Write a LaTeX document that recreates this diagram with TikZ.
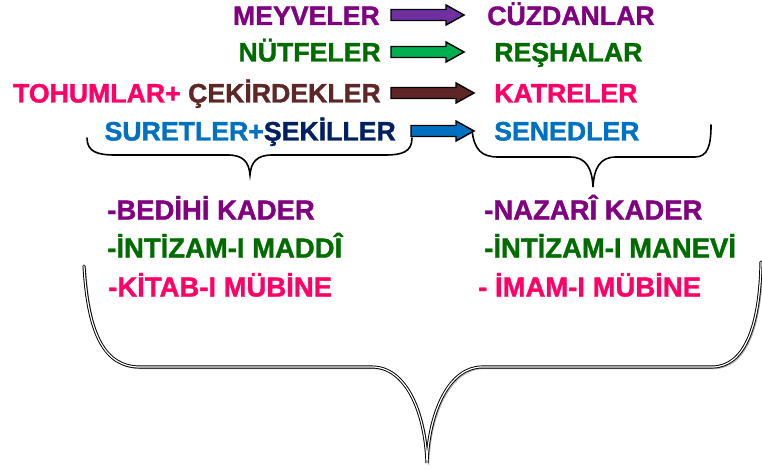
\documentclass[tikz,border=0pt]{standalone}
\usepackage{fontspec}
\setmainfont{Liberation Sans}[BoldFeatures={FakeBold=1.3}]
\usepackage{tikz}
\usetikzlibrary{calc}
\definecolor{mor}{HTML}{800080}
\definecolor{yesil}{HTML}{006C00}
\definecolor{pembe}{HTML}{FF0066}
\definecolor{kahve}{HTML}{5E2626}
\definecolor{mavi}{HTML}{0070C0}
\definecolor{lacivert}{HTML}{002060}
\definecolor{okmor}{HTML}{7030A0}
\definecolor{okyesil}{HTML}{00B050}
\tikzset{word/.style = {font=\bfseries\fontsize{20}{22}\selectfont, inner sep=0pt}}
\tikzset{listword/.style = {word, font=\bfseries\fontsize{20.6}{22}\selectfont}}
\tikzset{brace/.style = {line width=1.2pt, line cap=round}}
% block arrow from #1 to #2, filled with #3
\newcommand{\fatarrow}[3]{%
  \filldraw[fill=#3, draw=black, line width=1.1pt, line join=miter]
    ($(#1)+(0,5.5)$) -- ($(#2)+(-18,5.5)$) -- ($(#2)+(-18,10)$) -- (#2)
    -- ($(#2)+(-18,-10)$) -- ($(#2)+(-18,-5.5)$) -- ($(#1)+(0,-5.5)$) -- cycle;}

\begin{document}
\begin{tikzpicture}[x=0.75pt, y=-0.75pt]
        \useasboundingbox (0,0) rectangle (762,470);

        % Braces
        \newcommand{\leftbrace}{(87,138) .. controls (87,152) and (98,155) .. (115,155) -- (228,155) .. controls (243,155) and (249,162) .. (250,175) .. controls (251,162) and (257,155) .. (272,155) -- (385,155) .. controls (402,155) and (412,152) .. (412,138)}
        \newcommand{\rightbrace}{(472,130) .. controls (474,150) and (482,157) .. (498,157) -- (570,157) .. controls (586,157) and (592,168) .. (593,187) .. controls (594,168) and (600,157) .. (616,157) -- (695,157) .. controls (708,157) and (711,145) .. (711,125)}
        \newcommand{\bigbrace}{(84,266) .. controls (88,335) and (105,367) .. (140,367) -- (372,367) .. controls (405,367) and (425,410) .. (427,463) .. controls (429,410) and (450,367) .. (482,367) -- (712,367) .. controls (745,367) and (760,325) .. (761,262)}

        % Top rows
        \node[word, anchor=base east, text=mor] (meyve) at (380,25) {MEYVELER};
        \node[word, anchor=base west, text=mor] (cuzdan) at (487,25) {CÜZDANLAR};
        \node[word, anchor=base east, text=yesil] (nutfe) at (381,61.5) {NÜTFELER};
        \node[word, anchor=base west, text=yesil] (resha) at (494,61.5) {REŞHALAR};
        \node[word, anchor=base east] (tohum) at (381,102.5) {\textcolor{pembe}{TOHUMLAR+} \textcolor{kahve}{ÇEKİRDEKLER}};
        \node[word, anchor=base west, text=pembe] (katre) at (494,102.5) {KATRELER};
        \node[word, anchor=base east] (suret) at (396,140.5) {\textcolor{mavi}{SURETLER+}\textcolor{lacivert}{ŞEKİLLER}};
        \node[word, anchor=base west, text=mavi] (sened) at (494,140.5) {SENEDLER};

        \coordinate (a1) at (391,15);  \coordinate (b1) at (464,15);
        \coordinate (a2) at (391,52);  \coordinate (b2) at (464,52);
        \coordinate (a3) at (391,93);  \coordinate (b3) at (474,93);
        \coordinate (a4) at (411,131); \coordinate (b4) at (474,131);
        \fatarrow{a1}{b1}{okmor}
        \fatarrow{a2}{b2}{okyesil}
        \fatarrow{a3}{b3}{kahve}
        \fatarrow{a4}{b4}{mavi}

        \draw[brace] \leftbrace;
        \draw[brace] \rightbrace;

        % Lower lists
        \node[listword, anchor=base west, text=mor] (bedihi) at (107,219.5) {-BEDİHİ KADER};
        \node[listword, anchor=base west, text=yesil] (maddi) at (107,257.5) {-İNTİZAM-I MADDÎ};
        \node[listword, anchor=base west, text=pembe] (kitab) at (108,296.5) {-KİTAB-I MÜBİNE};
        \node[listword, anchor=base west, text=mor] (nazari) at (484,219.5) {-NAZARÎ KADER};
        \node[listword, anchor=base west, text=yesil] (manevi) at (484,257.5) {-İNTİZAM-I MANEVİ};
        \node[listword, anchor=base west, text=pembe] (imam) at (478,296.5) {- İMAM-I MÜBİNE};

        \draw[brace, line width=0.8pt, gray!60, shift={(1.6,1.6)}] \bigbrace;
        \draw[brace, line width=0.7pt, double=white, double distance=0.9pt] \bigbrace;
    \end{tikzpicture}
\end{document}
